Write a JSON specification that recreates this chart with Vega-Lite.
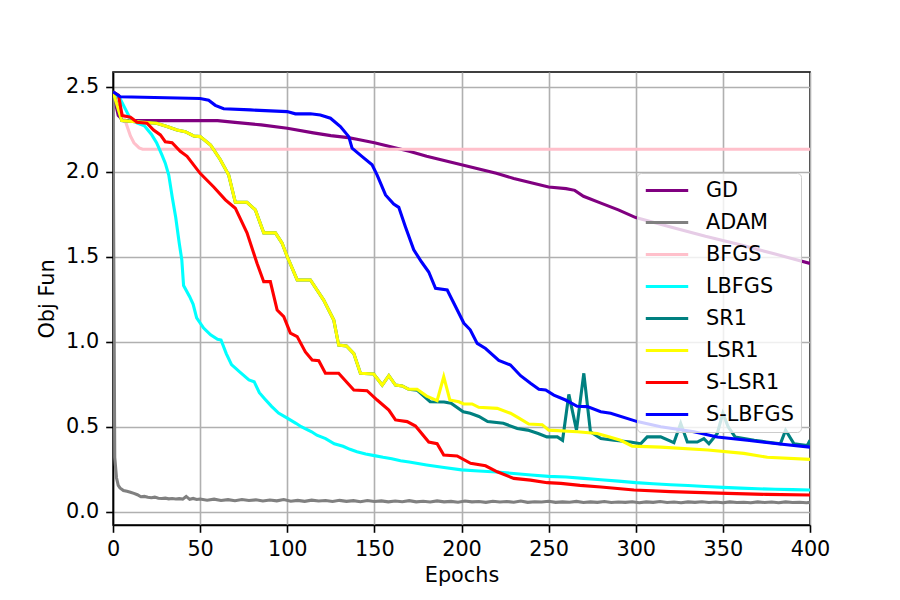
{
"$schema": "https://vega.github.io/schema/vega-lite/v6.json",
"width": 697, "height": 453,
"autosize": "none",
"padding": {"left": 113, "top": 72, "right": 90, "bottom": 75},
"background": "white",
"config": {"font": "DejaVu Sans", "view": {"stroke": "black", "strokeWidth": 1.6},
 "axis": {"domainColor": "black", "domainWidth": 1.6, "tickColor": "black", "tickWidth": 1.6, "tickSize": 7.3, "labelPadding": 7, "labelFontSize": 20.8, "labelColor": "black", "titleFontSize": 20.8, "titleFontWeight": "normal", "titleColor": "black", "gridColor": "#b0b0b0", "gridWidth": 1.6, "labelFlush": false, "labelOverlap": false}},
"datasets": {
"GD": [[0,2.47],[3,2.33],[6,2.30],[60,2.30],[70,2.29],[85,2.275],[100,2.255],[115,2.228],[125,2.212],[135,2.20],[140,2.19],[145,2.18],[150,2.17],[160,2.145],[170,2.12],[180,2.09],[190,2.065],[200,2.04],[210,2.015],[220,1.99],[230,1.96],[240,1.935],[250,1.91],[260,1.90],[265,1.89],[270,1.855],[280,1.815],[290,1.775],[300,1.73],[320,1.675],[340,1.62],[360,1.57],[380,1.515],[400,1.46]]
},
"data": {"values": [
{"method":"GD","epoch":0,"obj":2.47},{"method":"GD","epoch":3,"obj":2.33},{"method":"GD","epoch":6,"obj":2.30},{"method":"GD","epoch":60,"obj":2.30},{"method":"GD","epoch":70,"obj":2.29},{"method":"GD","epoch":85,"obj":2.275},{"method":"GD","epoch":100,"obj":2.255},{"method":"GD","epoch":115,"obj":2.228},{"method":"GD","epoch":125,"obj":2.212},{"method":"GD","epoch":135,"obj":2.20},{"method":"GD","epoch":140,"obj":2.19},{"method":"GD","epoch":145,"obj":2.18},{"method":"GD","epoch":150,"obj":2.17},{"method":"GD","epoch":160,"obj":2.145},{"method":"GD","epoch":170,"obj":2.12},{"method":"GD","epoch":180,"obj":2.09},{"method":"GD","epoch":190,"obj":2.065},{"method":"GD","epoch":200,"obj":2.04},{"method":"GD","epoch":210,"obj":2.015},{"method":"GD","epoch":220,"obj":1.99},{"method":"GD","epoch":230,"obj":1.96},{"method":"GD","epoch":240,"obj":1.935},{"method":"GD","epoch":250,"obj":1.91},{"method":"GD","epoch":260,"obj":1.90},{"method":"GD","epoch":265,"obj":1.89},{"method":"GD","epoch":270,"obj":1.855},{"method":"GD","epoch":280,"obj":1.815},{"method":"GD","epoch":290,"obj":1.775},{"method":"GD","epoch":300,"obj":1.73},{"method":"GD","epoch":320,"obj":1.675},{"method":"GD","epoch":340,"obj":1.62},{"method":"GD","epoch":360,"obj":1.57},{"method":"GD","epoch":380,"obj":1.515},{"method":"GD","epoch":400,"obj":1.46},

{"method":"ADAM","epoch":0,"obj":2.47},{"method":"ADAM","epoch":1,"obj":0.32},{"method":"ADAM","epoch":2,"obj":0.2},{"method":"ADAM","epoch":3,"obj":0.155},{"method":"ADAM","epoch":4,"obj":0.14},{"method":"ADAM","epoch":6,"obj":0.125},{"method":"ADAM","epoch":8,"obj":0.12},{"method":"ADAM","epoch":10,"obj":0.115},{"method":"ADAM","epoch":12,"obj":0.108},{"method":"ADAM","epoch":14,"obj":0.1},{"method":"ADAM","epoch":16,"obj":0.088},{"method":"ADAM","epoch":18,"obj":0.09},{"method":"ADAM","epoch":20,"obj":0.085},{"method":"ADAM","epoch":22,"obj":0.082},{"method":"ADAM","epoch":24,"obj":0.086},{"method":"ADAM","epoch":26,"obj":0.079},{"method":"ADAM","epoch":28,"obj":0.078},{"method":"ADAM","epoch":30,"obj":0.08},{"method":"ADAM","epoch":32,"obj":0.076},{"method":"ADAM","epoch":34,"obj":0.078},{"method":"ADAM","epoch":36,"obj":0.075},{"method":"ADAM","epoch":38,"obj":0.077},{"method":"ADAM","epoch":40,"obj":0.074},{"method":"ADAM","epoch":42,"obj":0.09},{"method":"ADAM","epoch":44,"obj":0.073},{"method":"ADAM","epoch":46,"obj":0.078},{"method":"ADAM","epoch":48,"obj":0.072},{"method":"ADAM","epoch":50,"obj":0.075},{"method":"ADAM","epoch":54,"obj":0.068},{"method":"ADAM","epoch":58,"obj":0.074},{"method":"ADAM","epoch":62,"obj":0.066},{"method":"ADAM","epoch":66,"obj":0.071},{"method":"ADAM","epoch":70,"obj":0.065},{"method":"ADAM","epoch":74,"obj":0.072},{"method":"ADAM","epoch":78,"obj":0.066},{"method":"ADAM","epoch":82,"obj":0.07},{"method":"ADAM","epoch":86,"obj":0.063},{"method":"ADAM","epoch":90,"obj":0.069},{"method":"ADAM","epoch":94,"obj":0.064},{"method":"ADAM","epoch":98,"obj":0.072},{"method":"ADAM","epoch":102,"obj":0.062},{"method":"ADAM","epoch":106,"obj":0.067},{"method":"ADAM","epoch":110,"obj":0.061},{"method":"ADAM","epoch":114,"obj":0.068},{"method":"ADAM","epoch":118,"obj":0.063},{"method":"ADAM","epoch":122,"obj":0.066},{"method":"ADAM","epoch":126,"obj":0.06},{"method":"ADAM","epoch":130,"obj":0.067},{"method":"ADAM","epoch":134,"obj":0.061},{"method":"ADAM","epoch":138,"obj":0.065},{"method":"ADAM","epoch":142,"obj":0.059},{"method":"ADAM","epoch":146,"obj":0.066},{"method":"ADAM","epoch":150,"obj":0.06},{"method":"ADAM","epoch":154,"obj":0.064},{"method":"ADAM","epoch":158,"obj":0.058},{"method":"ADAM","epoch":162,"obj":0.063},{"method":"ADAM","epoch":166,"obj":0.059},{"method":"ADAM","epoch":170,"obj":0.065},{"method":"ADAM","epoch":174,"obj":0.058},{"method":"ADAM","epoch":178,"obj":0.062},{"method":"ADAM","epoch":182,"obj":0.057},{"method":"ADAM","epoch":186,"obj":0.064},{"method":"ADAM","epoch":190,"obj":0.058},{"method":"ADAM","epoch":194,"obj":0.061},{"method":"ADAM","epoch":198,"obj":0.056},{"method":"ADAM","epoch":202,"obj":0.063},{"method":"ADAM","epoch":206,"obj":0.058},{"method":"ADAM","epoch":210,"obj":0.06},{"method":"ADAM","epoch":214,"obj":0.055},{"method":"ADAM","epoch":218,"obj":0.062},{"method":"ADAM","epoch":222,"obj":0.057},{"method":"ADAM","epoch":226,"obj":0.06},{"method":"ADAM","epoch":230,"obj":0.056},{"method":"ADAM","epoch":234,"obj":0.063},{"method":"ADAM","epoch":238,"obj":0.055},{"method":"ADAM","epoch":242,"obj":0.059},{"method":"ADAM","epoch":246,"obj":0.057},{"method":"ADAM","epoch":250,"obj":0.062},{"method":"ADAM","epoch":254,"obj":0.055},{"method":"ADAM","epoch":258,"obj":0.058},{"method":"ADAM","epoch":262,"obj":0.056},{"method":"ADAM","epoch":266,"obj":0.061},{"method":"ADAM","epoch":270,"obj":0.054},{"method":"ADAM","epoch":274,"obj":0.058},{"method":"ADAM","epoch":278,"obj":0.055},{"method":"ADAM","epoch":282,"obj":0.06},{"method":"ADAM","epoch":286,"obj":0.054},{"method":"ADAM","epoch":290,"obj":0.057},{"method":"ADAM","epoch":294,"obj":0.055},{"method":"ADAM","epoch":298,"obj":0.059},{"method":"ADAM","epoch":302,"obj":0.053},{"method":"ADAM","epoch":306,"obj":0.058},{"method":"ADAM","epoch":310,"obj":0.055},{"method":"ADAM","epoch":314,"obj":0.06},{"method":"ADAM","epoch":318,"obj":0.054},{"method":"ADAM","epoch":322,"obj":0.057},{"method":"ADAM","epoch":326,"obj":0.053},{"method":"ADAM","epoch":330,"obj":0.058},{"method":"ADAM","epoch":334,"obj":0.055},{"method":"ADAM","epoch":338,"obj":0.059},{"method":"ADAM","epoch":342,"obj":0.054},{"method":"ADAM","epoch":346,"obj":0.057},{"method":"ADAM","epoch":350,"obj":0.053},{"method":"ADAM","epoch":354,"obj":0.058},{"method":"ADAM","epoch":358,"obj":0.054},{"method":"ADAM","epoch":362,"obj":0.056},{"method":"ADAM","epoch":366,"obj":0.053},{"method":"ADAM","epoch":370,"obj":0.058},{"method":"ADAM","epoch":374,"obj":0.054},{"method":"ADAM","epoch":378,"obj":0.057},{"method":"ADAM","epoch":382,"obj":0.053},{"method":"ADAM","epoch":386,"obj":0.058},{"method":"ADAM","epoch":390,"obj":0.054},{"method":"ADAM","epoch":394,"obj":0.056},{"method":"ADAM","epoch":398,"obj":0.053},{"method":"ADAM","epoch":400,"obj":0.055},

{"method":"BFGS","epoch":0,"obj":2.47},{"method":"BFGS","epoch":3,"obj":2.40},{"method":"BFGS","epoch":7,"obj":2.30},{"method":"BFGS","epoch":10,"obj":2.21},{"method":"BFGS","epoch":12,"obj":2.17},{"method":"BFGS","epoch":15,"obj":2.14},{"method":"BFGS","epoch":17,"obj":2.132},{"method":"BFGS","epoch":400,"obj":2.132},

{"method":"LBFGS","epoch":0,"obj":2.47},{"method":"LBFGS","epoch":4,"obj":2.43},{"method":"LBFGS","epoch":8,"obj":2.35},{"method":"LBFGS","epoch":10,"obj":2.31},{"method":"LBFGS","epoch":14,"obj":2.285},{"method":"LBFGS","epoch":18,"obj":2.27},{"method":"LBFGS","epoch":22,"obj":2.22},{"method":"LBFGS","epoch":25,"obj":2.17},{"method":"LBFGS","epoch":28,"obj":2.10},{"method":"LBFGS","epoch":30,"obj":2.05},{"method":"LBFGS","epoch":32,"obj":1.98},{"method":"LBFGS","epoch":34,"obj":1.85},{"method":"LBFGS","epoch":36,"obj":1.73},{"method":"LBFGS","epoch":38,"obj":1.58},{"method":"LBFGS","epoch":39.5,"obj":1.48},{"method":"LBFGS","epoch":40.5,"obj":1.33},{"method":"LBFGS","epoch":44,"obj":1.265},{"method":"LBFGS","epoch":46,"obj":1.22},{"method":"LBFGS","epoch":48,"obj":1.14},{"method":"LBFGS","epoch":52,"obj":1.08},{"method":"LBFGS","epoch":56,"obj":1.04},{"method":"LBFGS","epoch":60,"obj":1.014},{"method":"LBFGS","epoch":62,"obj":1.01},{"method":"LBFGS","epoch":65,"obj":0.93},{"method":"LBFGS","epoch":68,"obj":0.865},{"method":"LBFGS","epoch":73,"obj":0.82},{"method":"LBFGS","epoch":78,"obj":0.775},{"method":"LBFGS","epoch":81,"obj":0.765},{"method":"LBFGS","epoch":84,"obj":0.70},{"method":"LBFGS","epoch":87,"obj":0.665},{"method":"LBFGS","epoch":91,"obj":0.62},{"method":"LBFGS","epoch":95,"obj":0.58},{"method":"LBFGS","epoch":100,"obj":0.55},{"method":"LBFGS","epoch":105,"obj":0.52},{"method":"LBFGS","epoch":108,"obj":0.50},{"method":"LBFGS","epoch":114,"obj":0.47},{"method":"LBFGS","epoch":117,"obj":0.45},{"method":"LBFGS","epoch":122,"obj":0.43},{"method":"LBFGS","epoch":127,"obj":0.40},{"method":"LBFGS","epoch":132,"obj":0.385},{"method":"LBFGS","epoch":136,"obj":0.367},{"method":"LBFGS","epoch":140,"obj":0.353},{"method":"LBFGS","epoch":145,"obj":0.34},{"method":"LBFGS","epoch":150,"obj":0.33},{"method":"LBFGS","epoch":155,"obj":0.32},{"method":"LBFGS","epoch":160,"obj":0.312},{"method":"LBFGS","epoch":165,"obj":0.30},{"method":"LBFGS","epoch":170,"obj":0.292},{"method":"LBFGS","epoch":180,"obj":0.275},{"method":"LBFGS","epoch":190,"obj":0.26},{"method":"LBFGS","epoch":200,"obj":0.246},{"method":"LBFGS","epoch":210,"obj":0.24},{"method":"LBFGS","epoch":220,"obj":0.234},{"method":"LBFGS","epoch":230,"obj":0.225},{"method":"LBFGS","epoch":240,"obj":0.216},{"method":"LBFGS","epoch":250,"obj":0.208},{"method":"LBFGS","epoch":260,"obj":0.204},{"method":"LBFGS","epoch":270,"obj":0.196},{"method":"LBFGS","epoch":280,"obj":0.188},{"method":"LBFGS","epoch":290,"obj":0.18},{"method":"LBFGS","epoch":300,"obj":0.171},{"method":"LBFGS","epoch":310,"obj":0.165},{"method":"LBFGS","epoch":320,"obj":0.159},{"method":"LBFGS","epoch":330,"obj":0.154},{"method":"LBFGS","epoch":340,"obj":0.148},{"method":"LBFGS","epoch":350,"obj":0.143},{"method":"LBFGS","epoch":360,"obj":0.139},{"method":"LBFGS","epoch":370,"obj":0.135},{"method":"LBFGS","epoch":380,"obj":0.132},{"method":"LBFGS","epoch":390,"obj":0.13},{"method":"LBFGS","epoch":400,"obj":0.128},

{"method":"SR1","epoch":0,"obj":2.47},{"method":"SR1","epoch":5,"obj":2.30},{"method":"SR1","epoch":17.6,"obj":2.29},{"method":"SR1","epoch":25,"obj":2.285},{"method":"SR1","epoch":31,"obj":2.265},{"method":"SR1","epoch":36.7,"obj":2.245},{"method":"SR1","epoch":41.5,"obj":2.235},{"method":"SR1","epoch":46.3,"obj":2.21},{"method":"SR1","epoch":50,"obj":2.206},{"method":"SR1","epoch":56,"obj":2.157},{"method":"SR1","epoch":61.6,"obj":2.07},{"method":"SR1","epoch":66.4,"obj":1.98},{"method":"SR1","epoch":70.2,"obj":1.82},{"method":"SR1","epoch":76.9,"obj":1.82},{"method":"SR1","epoch":81.7,"obj":1.775},{"method":"SR1","epoch":86.5,"obj":1.64},{"method":"SR1","epoch":93.2,"obj":1.64},{"method":"SR1","epoch":97,"obj":1.58},{"method":"SR1","epoch":100,"obj":1.50},{"method":"SR1","epoch":105.7,"obj":1.363},{"method":"SR1","epoch":113.3,"obj":1.363},{"method":"SR1","epoch":120.9,"obj":1.245},{"method":"SR1","epoch":126.7,"obj":1.128},{"method":"SR1","epoch":129.5,"obj":0.98},{"method":"SR1","epoch":134,"obj":0.975},{"method":"SR1","epoch":138.2,"obj":0.93},{"method":"SR1","epoch":142,"obj":0.814},{"method":"SR1","epoch":149.6,"obj":0.81},{"method":"SR1","epoch":154.5,"obj":0.745},{"method":"SR1","epoch":158.3,"obj":0.80},{"method":"SR1","epoch":162.1,"obj":0.745},{"method":"SR1","epoch":166,"obj":0.74},{"method":"SR1","epoch":169.7,"obj":0.72},{"method":"SR1","epoch":174.5,"obj":0.715},{"method":"SR1","epoch":182,"obj":0.647},{"method":"SR1","epoch":190,"obj":0.645},{"method":"SR1","epoch":194,"obj":0.638},{"method":"SR1","epoch":201,"obj":0.588},{"method":"SR1","epoch":205,"obj":0.579},{"method":"SR1","epoch":210,"obj":0.56},{"method":"SR1","epoch":215,"obj":0.53},{"method":"SR1","epoch":224,"obj":0.52},{"method":"SR1","epoch":232,"obj":0.49},{"method":"SR1","epoch":238,"obj":0.48},{"method":"SR1","epoch":244,"obj":0.46},{"method":"SR1","epoch":249,"obj":0.44},{"method":"SR1","epoch":255,"obj":0.44},{"method":"SR1","epoch":258,"obj":0.42},{"method":"SR1","epoch":261.6,"obj":0.69},{"method":"SR1","epoch":266,"obj":0.48},{"method":"SR1","epoch":270.2,"obj":0.814},{"method":"SR1","epoch":274,"obj":0.47},{"method":"SR1","epoch":280,"obj":0.43},{"method":"SR1","epoch":287.5,"obj":0.42},{"method":"SR1","epoch":297,"obj":0.41},{"method":"SR1","epoch":302.8,"obj":0.40},{"method":"SR1","epoch":306.6,"obj":0.44},{"method":"SR1","epoch":314.3,"obj":0.44},{"method":"SR1","epoch":321.9,"obj":0.406},{"method":"SR1","epoch":325.8,"obj":0.52},{"method":"SR1","epoch":329.6,"obj":0.41},{"method":"SR1","epoch":335.3,"obj":0.41},{"method":"SR1","epoch":339.1,"obj":0.43},{"method":"SR1","epoch":342,"obj":0.40},{"method":"SR1","epoch":346.8,"obj":0.46},{"method":"SR1","epoch":350,"obj":0.58},{"method":"SR1","epoch":353,"obj":0.50},{"method":"SR1","epoch":357,"obj":0.44},{"method":"SR1","epoch":368,"obj":0.42},{"method":"SR1","epoch":375,"obj":0.41},{"method":"SR1","epoch":383,"obj":0.40},{"method":"SR1","epoch":386,"obj":0.48},{"method":"SR1","epoch":390.8,"obj":0.40},{"method":"SR1","epoch":398.5,"obj":0.39},{"method":"SR1","epoch":400,"obj":0.42},

{"method":"LSR1","epoch":0,"obj":2.47},{"method":"LSR1","epoch":5,"obj":2.30},{"method":"LSR1","epoch":17.6,"obj":2.29},{"method":"LSR1","epoch":25,"obj":2.285},{"method":"LSR1","epoch":31,"obj":2.265},{"method":"LSR1","epoch":36.7,"obj":2.245},{"method":"LSR1","epoch":41.5,"obj":2.235},{"method":"LSR1","epoch":46.3,"obj":2.21},{"method":"LSR1","epoch":50,"obj":2.206},{"method":"LSR1","epoch":56,"obj":2.157},{"method":"LSR1","epoch":61.6,"obj":2.07},{"method":"LSR1","epoch":66.4,"obj":1.98},{"method":"LSR1","epoch":70.2,"obj":1.82},{"method":"LSR1","epoch":76.9,"obj":1.82},{"method":"LSR1","epoch":81.7,"obj":1.775},{"method":"LSR1","epoch":86.5,"obj":1.64},{"method":"LSR1","epoch":93.2,"obj":1.64},{"method":"LSR1","epoch":97,"obj":1.58},{"method":"LSR1","epoch":100,"obj":1.50},{"method":"LSR1","epoch":105.7,"obj":1.363},{"method":"LSR1","epoch":113.3,"obj":1.363},{"method":"LSR1","epoch":120.9,"obj":1.245},{"method":"LSR1","epoch":126.7,"obj":1.128},{"method":"LSR1","epoch":129.5,"obj":0.98},{"method":"LSR1","epoch":134,"obj":0.975},{"method":"LSR1","epoch":138.2,"obj":0.93},{"method":"LSR1","epoch":142,"obj":0.814},{"method":"LSR1","epoch":149.6,"obj":0.81},{"method":"LSR1","epoch":154.5,"obj":0.745},{"method":"LSR1","epoch":158.3,"obj":0.80},{"method":"LSR1","epoch":162.1,"obj":0.745},{"method":"LSR1","epoch":166,"obj":0.74},{"method":"LSR1","epoch":169.7,"obj":0.72},{"method":"LSR1","epoch":174.5,"obj":0.72},{"method":"LSR1","epoch":180,"obj":0.68},{"method":"LSR1","epoch":186,"obj":0.653},{"method":"LSR1","epoch":189.8,"obj":0.794},{"method":"LSR1","epoch":193.3,"obj":0.657},{"method":"LSR1","epoch":198.5,"obj":0.647},{"method":"LSR1","epoch":201.3,"obj":0.634},{"method":"LSR1","epoch":206.1,"obj":0.634},{"method":"LSR1","epoch":209.9,"obj":0.614},{"method":"LSR1","epoch":220.5,"obj":0.608},{"method":"LSR1","epoch":228.1,"obj":0.579},{"method":"LSR1","epoch":233,"obj":0.55},{"method":"LSR1","epoch":238.6,"obj":0.516},{"method":"LSR1","epoch":246.3,"obj":0.512},{"method":"LSR1","epoch":250.1,"obj":0.48},{"method":"LSR1","epoch":266.4,"obj":0.47},{"method":"LSR1","epoch":277.9,"obj":0.46},{"method":"LSR1","epoch":285,"obj":0.44},{"method":"LSR1","epoch":291.3,"obj":0.42},{"method":"LSR1","epoch":298,"obj":0.386},{"method":"LSR1","epoch":314.3,"obj":0.38},{"method":"LSR1","epoch":341.4,"obj":0.363},{"method":"LSR1","epoch":362,"obj":0.343},{"method":"LSR1","epoch":375.5,"obj":0.32},{"method":"LSR1","epoch":400,"obj":0.308},

{"method":"S-LSR1","epoch":0,"obj":2.47},{"method":"S-LSR1","epoch":3.2,"obj":2.45},{"method":"S-LSR1","epoch":5.2,"obj":2.33},{"method":"S-LSR1","epoch":10,"obj":2.32},{"method":"S-LSR1","epoch":13.8,"obj":2.29},{"method":"S-LSR1","epoch":19.5,"obj":2.285},{"method":"S-LSR1","epoch":23.3,"obj":2.245},{"method":"S-LSR1","epoch":27.2,"obj":2.216},{"method":"S-LSR1","epoch":30,"obj":2.176},{"method":"S-LSR1","epoch":33.9,"obj":2.17},{"method":"S-LSR1","epoch":38.6,"obj":2.12},{"method":"S-LSR1","epoch":42.5,"obj":2.09},{"method":"S-LSR1","epoch":50,"obj":1.99},{"method":"S-LSR1","epoch":57.8,"obj":1.91},{"method":"S-LSR1","epoch":64.5,"obj":1.834},{"method":"S-LSR1","epoch":70.2,"obj":1.785},{"method":"S-LSR1","epoch":76.9,"obj":1.64},{"method":"S-LSR1","epoch":82.7,"obj":1.46},{"method":"S-LSR1","epoch":86.5,"obj":1.353},{"method":"S-LSR1","epoch":90.3,"obj":1.353},{"method":"S-LSR1","epoch":94.2,"obj":1.186},{"method":"S-LSR1","epoch":98,"obj":1.147},{"method":"S-LSR1","epoch":101.8,"obj":1.05},{"method":"S-LSR1","epoch":105.7,"obj":1.03},{"method":"S-LSR1","epoch":110.4,"obj":0.94},{"method":"S-LSR1","epoch":114.3,"obj":0.892},{"method":"S-LSR1","epoch":118.1,"obj":0.888},{"method":"S-LSR1","epoch":121.9,"obj":0.814},{"method":"S-LSR1","epoch":129.5,"obj":0.814},{"method":"S-LSR1","epoch":138.2,"obj":0.716},{"method":"S-LSR1","epoch":145.8,"obj":0.712},{"method":"S-LSR1","epoch":151.6,"obj":0.657},{"method":"S-LSR1","epoch":158.3,"obj":0.598},{"method":"S-LSR1","epoch":162.1,"obj":0.54},{"method":"S-LSR1","epoch":168.8,"obj":0.53},{"method":"S-LSR1","epoch":173.6,"obj":0.504},{"method":"S-LSR1","epoch":181.2,"obj":0.41},{"method":"S-LSR1","epoch":186,"obj":0.40},{"method":"S-LSR1","epoch":189.8,"obj":0.333},{"method":"S-LSR1","epoch":197.5,"obj":0.328},{"method":"S-LSR1","epoch":205.2,"obj":0.285},{"method":"S-LSR1","epoch":213.8,"obj":0.27},{"method":"S-LSR1","epoch":220.5,"obj":0.235},{"method":"S-LSR1","epoch":230,"obj":0.196},{"method":"S-LSR1","epoch":239.6,"obj":0.186},{"method":"S-LSR1","epoch":249.2,"obj":0.171},{"method":"S-LSR1","epoch":257,"obj":0.167},{"method":"S-LSR1","epoch":268,"obj":0.155},{"method":"S-LSR1","epoch":280,"obj":0.145},{"method":"S-LSR1","epoch":299,"obj":0.128},{"method":"S-LSR1","epoch":320,"obj":0.118},{"method":"S-LSR1","epoch":352.6,"obj":0.108},{"method":"S-LSR1","epoch":375,"obj":0.102},{"method":"S-LSR1","epoch":400,"obj":0.098},

{"method":"S-LBFGS","epoch":0,"obj":2.47},{"method":"S-LBFGS","epoch":4.2,"obj":2.44},{"method":"S-LBFGS","epoch":50,"obj":2.43},{"method":"S-LBFGS","epoch":54.9,"obj":2.42},{"method":"S-LBFGS","epoch":58.7,"obj":2.39},{"method":"S-LBFGS","epoch":63.5,"obj":2.37},{"method":"S-LBFGS","epoch":78.8,"obj":2.363},{"method":"S-LBFGS","epoch":99.9,"obj":2.353},{"method":"S-LBFGS","epoch":104.7,"obj":2.34},{"method":"S-LBFGS","epoch":113.3,"obj":2.34},{"method":"S-LBFGS","epoch":119,"obj":2.333},{"method":"S-LBFGS","epoch":124.8,"obj":2.314},{"method":"S-LBFGS","epoch":130.5,"obj":2.265},{"method":"S-LBFGS","epoch":135.3,"obj":2.206},{"method":"S-LBFGS","epoch":137.2,"obj":2.138},{"method":"S-LBFGS","epoch":143,"obj":2.088},{"method":"S-LBFGS","epoch":148.7,"obj":2.04},{"method":"S-LBFGS","epoch":151.6,"obj":1.98},{"method":"S-LBFGS","epoch":156.4,"obj":1.863},{"method":"S-LBFGS","epoch":161.1,"obj":1.81},{"method":"S-LBFGS","epoch":164,"obj":1.79},{"method":"S-LBFGS","epoch":167.8,"obj":1.676},{"method":"S-LBFGS","epoch":172.6,"obj":1.54},{"method":"S-LBFGS","epoch":177,"obj":1.47},{"method":"S-LBFGS","epoch":181.2,"obj":1.41},{"method":"S-LBFGS","epoch":185.1,"obj":1.314},{"method":"S-LBFGS","epoch":191.8,"obj":1.304},{"method":"S-LBFGS","epoch":198.5,"obj":1.167},{"method":"S-LBFGS","epoch":201.3,"obj":1.11},{"method":"S-LBFGS","epoch":205,"obj":1.07},{"method":"S-LBFGS","epoch":209,"obj":0.99},{"method":"S-LBFGS","epoch":213.8,"obj":0.96},{"method":"S-LBFGS","epoch":221.4,"obj":0.89},{"method":"S-LBFGS","epoch":228.1,"obj":0.863},{"method":"S-LBFGS","epoch":233.9,"obj":0.80},{"method":"S-LBFGS","epoch":239.6,"obj":0.755},{"method":"S-LBFGS","epoch":244.4,"obj":0.72},{"method":"S-LBFGS","epoch":248.3,"obj":0.716},{"method":"S-LBFGS","epoch":253,"obj":0.686},{"method":"S-LBFGS","epoch":259.7,"obj":0.657},{"method":"S-LBFGS","epoch":266.4,"obj":0.62},{"method":"S-LBFGS","epoch":272.2,"obj":0.618},{"method":"S-LBFGS","epoch":279.9,"obj":0.588},{"method":"S-LBFGS","epoch":285.6,"obj":0.579},{"method":"S-LBFGS","epoch":300.9,"obj":0.53},{"method":"S-LBFGS","epoch":314.3,"obj":0.50},{"method":"S-LBFGS","epoch":333.4,"obj":0.47},{"method":"S-LBFGS","epoch":346.8,"obj":0.44},{"method":"S-LBFGS","epoch":364,"obj":0.42},{"method":"S-LBFGS","epoch":381.3,"obj":0.40},{"method":"S-LBFGS","epoch":400,"obj":0.38}
]},
"mark": {"type": "line", "strokeWidth": 3.1, "clip": true},
"encoding": {
 "x": {"field": "epoch", "type": "quantitative", "scale": {"domain": [0, 400], "nice": false, "zero": false},
   "axis": {"values": [0,50,100,150,200,250,300,350,400], "title": "Epochs", "titlePadding": 6}},
 "y": {"field": "obj", "type": "quantitative", "scale": {"domain": [-0.078, 2.586], "nice": false, "zero": false},
   "axis": {"values": [0,0.5,1,1.5,2,2.5], "format": ".1f", "title": "Obj Fun", "titlePadding": 8}},
 "color": {"field": "method", "type": "nominal",
   "scale": {"domain": ["GD","ADAM","BFGS","LBFGS","SR1","LSR1","S-LSR1","S-LBFGS"], "range": ["#800080","#808080","#ffc0cb","#00ffff","#008080","#ffff00","#ff0000","#0000ff"]},
   "legend": {"orient": "none", "legendX": 524, "legendY": 101, "title": null, "symbolType": "stroke", "symbolSize": 1800, "symbolStrokeWidth": 3.1, "clipHeight": 21, "rowPadding": 10, "labelFontSize": 20.8, "labelColor": "black", "labelOffset": 16, "padding": 7, "fillColor": "rgba(255,255,255,0.8)", "strokeColor": "#cccccc", "cornerRadius": 4}}
}
}
